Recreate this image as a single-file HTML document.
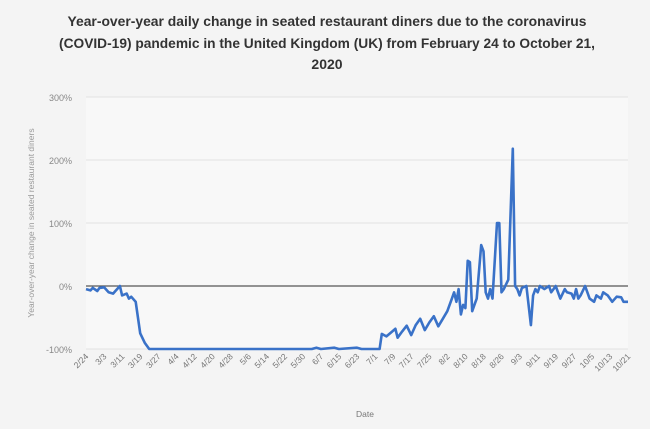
<!DOCTYPE html>
<html><head><meta charset="utf-8"><style>
body{margin:0;background:#f4f4f4;}
svg{display:block;font-family:"Liberation Sans",sans-serif;}
</style></head><body>
<svg id="c" width="650" height="429" viewBox="0 0 650 429" xmlns="http://www.w3.org/2000/svg">
<rect width="650" height="429" fill="#f4f4f4"/>
<rect x="86" y="97" width="542" height="252" fill="#f8f8f8"/>
<g font-weight="bold" font-size="14" fill="#333" text-anchor="middle">
<text x="327" y="26" textLength="519" lengthAdjust="spacingAndGlyphs">Year-over-year daily change in seated restaurant diners due to the coronavirus</text>
<text x="327" y="48" textLength="536" lengthAdjust="spacingAndGlyphs">(COVID-19) pandemic in the United Kingdom (UK) from February 24 to October 21,</text>
<text x="327" y="69">2020</text>
</g>
<g id="grid" stroke="#e2e2e2" stroke-width="1"></g>
<line x1="86" y1="286" x2="628" y2="286" stroke="#555" stroke-width="1.2"/>
<g font-size="9" fill="#888" text-anchor="end">
<text x="72" y="101">300%</text><text x="72" y="164">200%</text><text x="72" y="227">100%</text><text x="72" y="290">0%</text><text x="72" y="353">-100%</text>
</g>
<text transform="translate(34,223) rotate(-90)" font-size="8.5" fill="#999" text-anchor="middle">Year-over-year change in seated restaurant diners</text>
<g id="xl" font-size="8.5" fill="#777" text-anchor="end"></g>
<text x="356" y="417" font-size="8.5" fill="#777">Date</text>
<polyline id="ln" fill="none" stroke="#3a72c8" stroke-width="2.6" stroke-linejoin="round"/>
</svg>
<script>
var ns="http://www.w3.org/2000/svg";
function X(d){return 86+d*542/240;}
function Y(v){return 286-v*0.63;}
var g=document.getElementById('grid');
[97,160,223,349].forEach(function(y){var l=document.createElementNS(ns,'line');l.setAttribute('x1',86);l.setAttribute('x2',628);l.setAttribute('y1',y);l.setAttribute('y2',y);g.appendChild(l);});
var labels=["2/24","3/3","3/11","3/19","3/27","4/4","4/12","4/20","4/28","5/6","5/14","5/22","5/30","6/7","6/15","6/23","7/1","7/9","7/17","7/25","8/2","8/10","8/18","8/26","9/3","9/11","9/19","9/27","10/5","10/13","10/21"];
var xl=document.getElementById('xl');
labels.forEach(function(s,i){var d=i<30?i*8:240;var t=document.createElementNS(ns,'text');var x=X(d)+3,y=357;t.setAttribute('x',x);t.setAttribute('y',y);t.setAttribute('transform','rotate(-45 '+x+' '+y+')');t.textContent=s;xl.appendChild(t);});
var k=[[0,-5],[2,-7],[3,-3],[5,-8],[6,-3],[8,-2],[10,-10],[12,-12],[13,-8],[15,0],[16,-15],[18,-12],[19,-20],[20,-17],[22,-25],[24,-75],[26,-90],[28,-100],[100,-100],[102,-98],[104,-100],[110,-98],[112,-100],[120,-98],[122,-100],[130,-100],[131,-76],[133,-80],[135,-74],[137,-68],[138,-82],[140,-72],[142,-63],[144,-78],[146,-62],[148,-52],[150,-70],[152,-58],[154,-48],[156,-64],[158,-52],[160,-40],[162,-20],[163,-10],[164,-25],[165,-5],[166,-45],[167,-30],[168,-35],[169,40],[170,38],[171,-40],[172,-30],[173,-20],[175,65],[176,55],[177,-10],[178,-20],[179,-5],[180,-20],[182,100],[183,100],[184,-10],[185,-5],[187,10],[189,218],[190,0],[191,-5],[192,-15],[193,-3],[195,0],[197,-62],[198,-15],[199,-5],[200,-10],[201,0],[203,-5],[205,0],[206,-10],[207,-5],[208,0],[210,-20],[212,-5],[213,-10],[215,-12],[216,-20],[217,-5],[218,-20],[219,-15],[221,0],[223,-20],[225,-25],[226,-15],[228,-20],[229,-10],[231,-15],[233,-25],[235,-17],[237,-18],[238,-25],[240,-25]];
document.getElementById('ln').setAttribute('points',k.map(function(p){return X(p[0]).toFixed(1)+','+Y(p[1]).toFixed(1);}).join(' '));
</script>
</body></html>
